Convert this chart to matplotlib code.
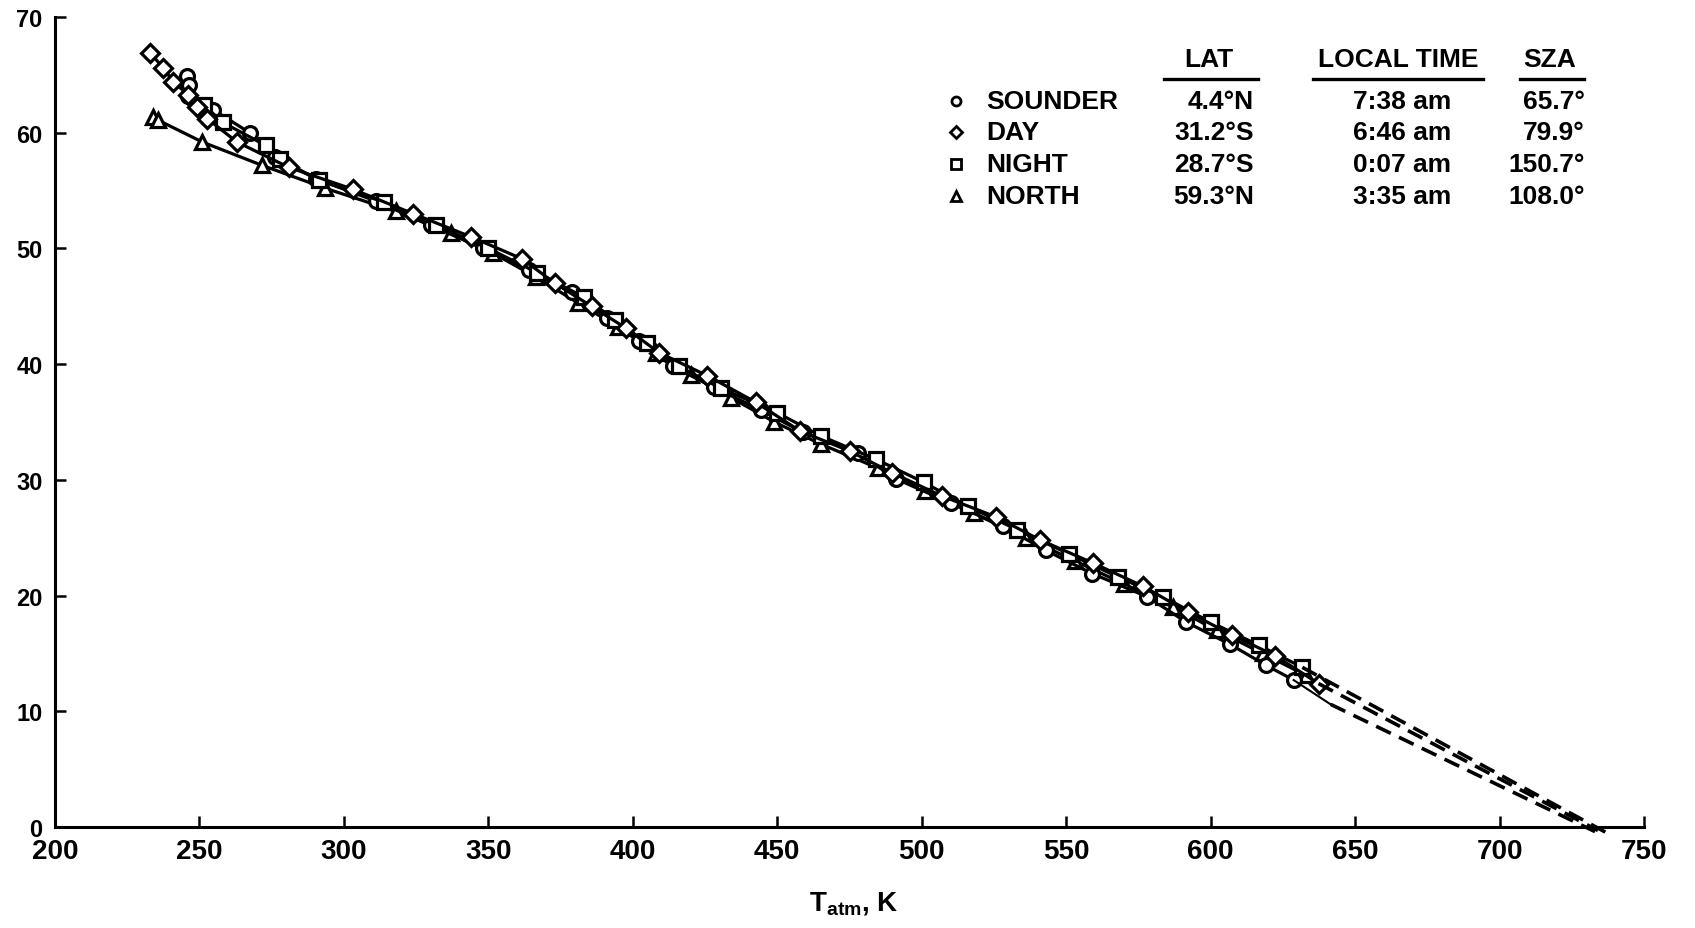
import matplotlib
matplotlib.use('Agg')
import matplotlib.pyplot as plt

plt.rcParams['font.family'] = ['Liberation Sans Narrow', 'Liberation Sans', 'DejaVu Sans']
plt.rcParams['mathtext.fontset'] = 'custom'
plt.rcParams['mathtext.rm'] = 'Liberation Sans:bold'
plt.rcParams['mathtext.bf'] = 'Liberation Sans:bold'

# temperature (K) vs altitude (km) for the four probes
sounder_z = [64.9, 64.1, 63.2, 62.0, 60.0, 57.9, 56.0, 54.1, 52.0, 50.0, 48.1, 46.2, 44.0, 42.0, 39.8,
             38.0, 36.0, 34.1, 32.3, 30.1, 28.0, 26.0, 23.9, 21.9, 19.9, 17.7, 15.8, 14.0, 12.7]
sounder_t = [245.7, 246.4, 246.0, 254.7, 267.4, 276.0, 290.5, 311, 330, 348, 364, 379, 391, 402, 413.8,
             428, 444.5, 459, 478, 491, 510, 528, 543, 559, 578, 591.6, 606.6, 619, 628.7]

day_z = [66.9, 65.6, 64.4, 63.3, 62.2, 61.2, 59.2, 57.0, 55.1, 53.0, 51.0, 49.1, 47.0, 45.0, 43.1,
         41.0, 39.0, 36.7, 34.2, 32.5, 30.6, 28.6, 26.8, 24.8, 22.8, 20.8, 18.6, 16.6, 14.8, 12.4]
day_t = [233, 237.5, 241, 246, 249, 252.8, 263, 281, 303.3, 324, 344, 361.7, 373, 385.7, 397.7,
         409, 425.8, 442.6, 458, 475, 489.8, 507, 525.7, 541, 559.4, 576.6, 592, 607.3, 622.3, 637.3]

night_z = [62.4, 60.9, 58.9, 57.7, 55.9, 54.0, 52.0, 50.0, 47.9, 45.8, 43.8, 41.8, 39.8, 37.9, 35.8,
           33.8, 31.8, 29.8, 27.7, 25.7, 23.6, 21.6, 19.9, 17.7, 15.7, 13.8]
night_t = [251.5, 258, 273, 278, 291.3, 314, 332, 350, 367, 383, 394, 405, 416, 430.6, 450,
           465, 484, 500.6, 516, 533, 551, 568, 583.4, 600, 616.7, 631.7]

north_z = [61.4, 61.1, 59.2, 57.2, 55.2, 53.2, 51.3, 49.6, 47.5, 45.3, 43.2, 41.0, 39.1, 37.1, 35.0,
           33.1, 31.0, 29.0, 27.1, 25.0, 23.0, 21.0, 19.0, 17.0, 15.0, 13.1]
north_t = [234, 235.6, 251, 271.5, 293.6, 318, 337, 351.6, 366.6, 381, 395, 408, 420, 434, 449,
           465, 485, 501, 518, 536, 553, 570, 587, 602, 618, 633]

# lower thin segment of the sounder profile and dashed extrapolations to the surface
sounder_low_z = [12.7, 10.6]
sounder_low_t = [628.7, 641.5]
ext_sounder_z = [10.6, -0.4]
ext_sounder_t = [641.5, 733]
ext_day_z = [12.4, -0.3]
ext_day_t = [637.3, 734]
ext_night_z = [13.8, -0.5]
ext_night_t = [631.7, 737]

names = ['SOUNDER', 'DAY', 'NIGHT', 'NORTH']
lats = ['4.4°N', '31.2°S', '28.7°S', '59.3°N']
times = ['7:38 am', '6:46 am', '0:07 am', '3:35 am']
szas = ['65.7°', '79.9°', '150.7°', '108.0°']
markers = ['o', 'D', 's', '^']

fig = plt.figure(figsize=(16.95, 9.29), dpi=100)
ax = fig.add_axes([0.0324, 0.1087, 0.9376, 0.8719])

mk = dict(color='black', lw=2.3, mfc='white', mec='black', mew=2.3)
ax.plot(north_t, north_z, marker='^', ms=10, **mk)
ax.plot(sounder_t, sounder_z, marker='o', ms=10, **mk)
ax.plot(night_t, night_z, marker='s', ms=9.5, **mk)
ax.plot(day_t, day_z, marker='D', ms=9.5, **mk)
ax.plot(sounder_low_t, sounder_low_z, color='black', lw=1.5)
for t, z in [(ext_sounder_t, ext_sounder_z), (ext_day_t, ext_day_z), (ext_night_t, ext_night_z)]:
    ax.plot(t, z, color='black', lw=2.6, ls=(0, (4.5, 2.5)), clip_on=False)

ax.set_xlim(200, 750)
ax.set_ylim(0, 70)
ax.set_xticks(range(200, 751, 50))
ax.set_yticks(range(0, 71, 10))
ax.spines['top'].set_visible(False)
ax.spines['right'].set_visible(False)
ax.spines['left'].set_linewidth(2.2)
ax.spines['bottom'].set_linewidth(2.2)
ax.tick_params(direction='in', length=8, width=1.8)
ax.tick_params(axis='x', pad=8)
ax.tick_params(axis='y', pad=9)
for lab in ax.get_xticklabels():
    lab.set_fontsize(20)
    lab.set_fontweight('bold')
for lab in ax.get_yticklabels():
    lab.set_fontsize(17)
    lab.set_fontweight('bold')
    lab.set_family(['Liberation Sans', 'DejaVu Sans'])

fig.text(854 / 1695, 1 - 904 / 929, r'T$_{\mathrm{atm}}$, K', fontsize=20, fontweight='bold',
         ha='center', va='center')

# table-style legend
W, H = 1695, 929
def fx(x):
    return x / W
def fy(y):
    return 1 - y / H

hdr = dict(fontsize=19, fontweight='bold', va='center')
fig.text(fx(1209), fy(60), 'LAT', ha='center', **hdr)
fig.text(fx(1398), fy(60), 'LOCAL TIME', ha='center', **hdr)
fig.text(fx(1550), fy(60), 'SZA', ha='center', **hdr)
for x0, x1 in [(1164, 1258), (1313, 1483), (1520, 1584)]:
    fig.add_artist(plt.Line2D([fx(x0), fx(x1)], [fy(80), fy(80)], color='black', lw=2.4))

rows_y = [102, 133, 165, 197]
row = dict(fontsize=19, fontweight='bold', va='center')
for i in range(4):
    y = rows_y[i]
    fig.add_artist(plt.Line2D([fx(956)], [fy(y)], marker=markers[i], ms=6.5, mfc='white',
                              mec='black', mew=2, ls='none'))
    fig.text(fx(986), fy(y), names[i], ha='left', **row)
    fig.text(fx(1254), fy(y), lats[i], ha='right', **row)
    fig.text(fx(1451), fy(y), times[i], ha='right', **row)
    fig.text(fx(1585), fy(y), szas[i], ha='right', **row)

fig.savefig('out.png', dpi=100)
plt.close(fig)
